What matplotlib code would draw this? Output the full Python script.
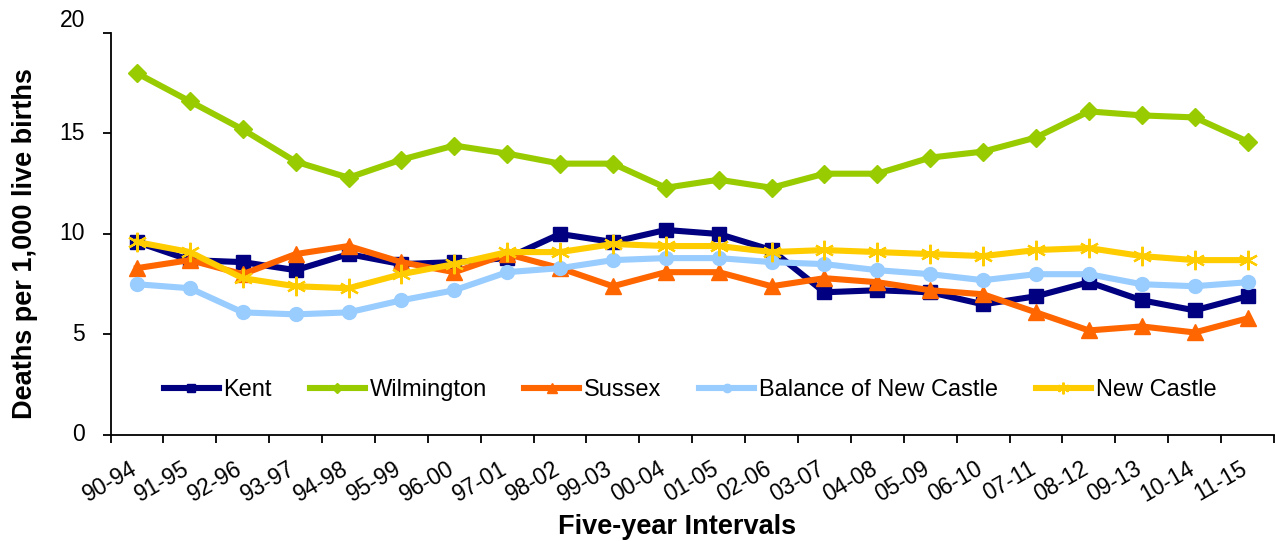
import matplotlib
matplotlib.use("Agg")
import matplotlib.pyplot as plt
import matplotlib.transforms as mtransforms

# Datos del gráfico (muertes por 1.000 nacidos vivos, intervalos de cinco años)
intervals = ["90-94", "91-95", "92-96", "93-97", "94-98", "95-99", "96-00",
             "97-01", "98-02", "99-03", "00-04", "01-05", "02-06", "03-07",
             "04-08", "05-09", "06-10", "07-11", "08-12", "09-13", "10-14", "11-15"]

kent = [9.6, 8.7, 8.6, 8.2, 9.0, 8.5, 8.6, 8.8, 10.0, 9.6, 10.2, 10.0,
        9.2, 7.1, 7.2, 7.1, 6.5, 6.9, 7.6, 6.7, 6.2, 6.9]
wilmington = [18.0, 16.6, 15.2, 13.6, 12.8, 13.7, 14.4, 14.0, 13.5, 13.5, 12.3, 12.7,
              12.3, 13.0, 13.0, 13.8, 14.1, 14.8, 16.1, 15.9, 15.8, 14.6]
sussex = [8.3, 8.7, 8.0, 9.0, 9.4, 8.6, 8.1, 9.0, 8.3, 7.4, 8.1, 8.1,
          7.4, 7.8, 7.6, 7.2, 7.0, 6.1, 5.2, 5.4, 5.1, 5.8]
balance_nc = [7.5, 7.3, 6.1, 6.0, 6.1, 6.7, 7.2, 8.1, 8.3, 8.7, 8.8, 8.8,
              8.6, 8.5, 8.2, 8.0, 7.7, 8.0, 8.0, 7.5, 7.4, 7.6]
new_castle = [9.6, 9.1, 7.8, 7.4, 7.3, 8.0, 8.5, 9.1, 9.1, 9.5, 9.4, 9.4,
              9.1, 9.2, 9.1, 9.0, 8.9, 9.2, 9.3, 8.9, 8.7, 8.7]
y_ticks = [0, 5, 10, 15, 20]

plt.rcParams["font.family"] = ["Liberation Sans", "DejaVu Sans"]

fig = plt.figure(figsize=(12.75, 5.41), dpi=100)
ax = fig.add_axes([0.0867, 0.196, 0.9125, 0.743])

x = range(len(intervals))
lw = 4.4

ax.plot(x, kent, color="#000080", lw=lw, marker="s", ms=10, label="Kent")
ax.plot(x, wilmington, color="#99CC00", lw=lw, marker="D", ms=9, label="Wilmington")
ax.plot(x, sussex, color="#FF6600", lw=lw, marker="^", ms=11, label="Sussex")
ax.plot(x, balance_nc, color="#99CCFF", lw=lw, marker="o", ms=10,
        label="Balance of New Castle")
ax.plot(x, new_castle, color="#FFCC00", lw=lw, marker=(6, 2, 0), ms=14, mew=1.6,
        label="New Castle")

# Ejes estilo Excel: marcas entre categorías
ax.set_xlim(-0.5, len(intervals) - 0.5)
ax.set_ylim(0, 20)
ax.set_yticks(y_ticks)
ax.set_yticklabels([])
ax.set_xticks([i - 0.5 for i in range(len(intervals) + 1)])
ax.set_xticklabels([])
ax.tick_params(axis="both", length=6, width=1.3)

# Etiquetas del eje Y (la de arriba queda algo más alta, como en el original)
ytrans = mtransforms.blended_transform_factory(ax.transAxes, ax.transData)
for v in y_ticks:
    yy = v + 0.6 if v == y_ticks[-1] else v
    ax.text(-0.022, yy, str(v), transform=ytrans, ha="right", va="center",
            fontsize=16.5)

# Etiquetas del eje X giradas
for i, lab in enumerate(intervals):
    ax.text(i - 0.15, -1.1, lab, rotation=30, rotation_mode="anchor",
            ha="right", va="top", fontsize=16.5)

for side in ["top", "right"]:
    ax.spines[side].set_visible(False)
for side in ["left", "bottom"]:
    ax.spines[side].set_linewidth(1.3)

ax.set_ylabel("Deaths per 1,000 live births", fontsize=19.5, fontweight="bold")
ax.yaxis.set_label_coords(-0.062, 0.475)
ax.set_xlabel("Five-year Intervals", fontsize=19.5, fontweight="bold")
ax.xaxis.set_label_coords(0.487, -0.196)

ax.legend(loc="center", bbox_to_anchor=(0.498, 0.112), ncol=5, frameon=False,
          fontsize=17, handlelength=2.33, columnspacing=1.6, handletextpad=0.2,
          markerscale=0.6)

plt.savefig("out.png", dpi=100)
